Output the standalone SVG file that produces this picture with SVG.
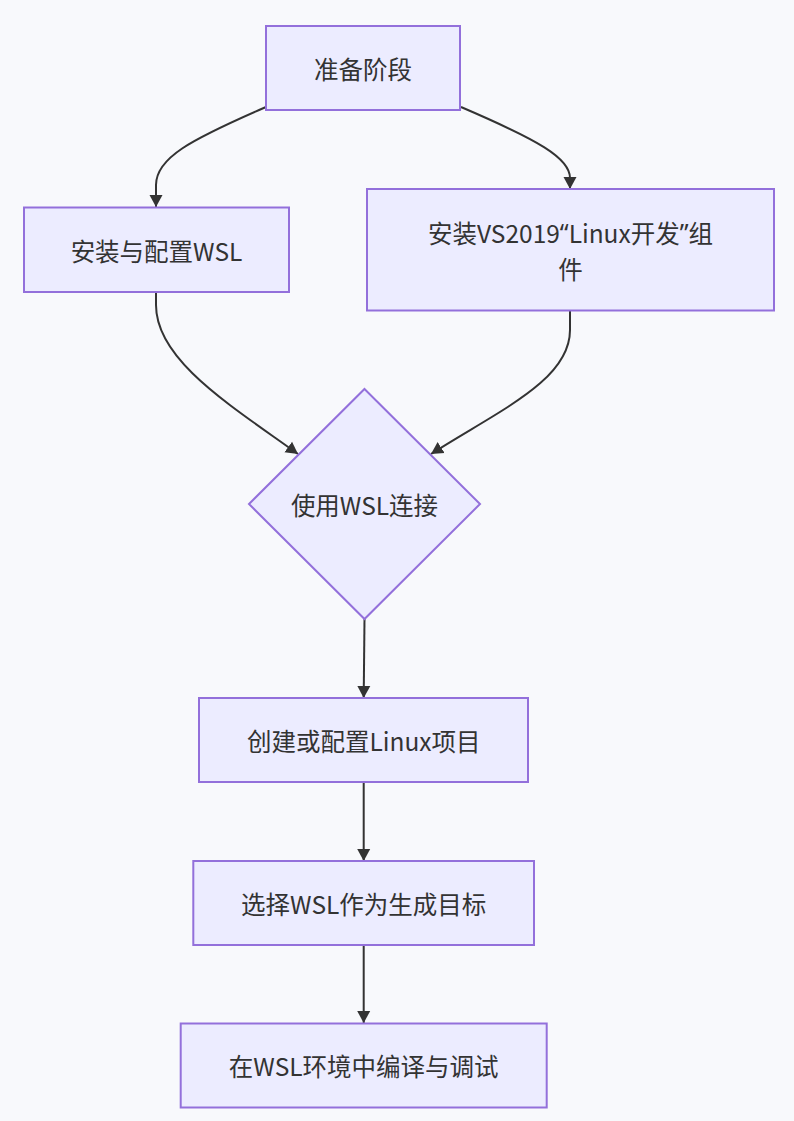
<svg xmlns="http://www.w3.org/2000/svg" width="794" height="1121" viewBox="0 0 794 1121">
<style>
.node{fill:#ECECFF;stroke:#9370DB;stroke-width:2}
.lbl{font-family:"Noto Sans CJK SC","Noto Sans",sans-serif;font-size:24.5px;fill:#333;text-anchor:middle;dominant-baseline:central}
.q{font-family:"Noto Sans",sans-serif}
.edge{fill:none;stroke:#333;stroke-width:2}
</style>
<defs>
<marker id="arr" markerUnits="userSpaceOnUse" markerWidth="13" markerHeight="14" refX="12" refY="6.5" orient="auto" viewBox="0 0 13 13">
<path d="M0,0 L12,6.5 L0,13 z" fill="#333"/>
</marker>
</defs>
<rect width="794" height="1121" fill="#f8f9fc"/>
<g id="edges">
<path class="edge" marker-end="url(#arr)" d="M266,107 C190,140 156,158 156,185 L156,207"/>
<path class="edge" marker-end="url(#arr)" d="M461,107 C538,140 570,158 570,178 L570,189"/>
<path class="edge" marker-end="url(#arr)" d="M156,292 L156,305 C156,360 230,405 298,454"/>
<path class="edge" marker-end="url(#arr)" d="M570,311 L570,330 C570,380 500,410 431,454"/>
<path class="edge" marker-end="url(#arr)" d="M364.5,619 L363.7,698"/>
<path class="edge" marker-end="url(#arr)" d="M363.7,782 L363.7,861"/>
<path class="edge" marker-end="url(#arr)" d="M363.7,945 L363.7,1023"/>
</g>
<g id="n1">
<rect class="node" x="266" y="26" width="194" height="84"/>
<text class="lbl" x="363" y="68">准备阶段</text>
</g>
<g id="n2">
<rect class="node" x="24" y="207.5" width="265" height="84.5"/>
<text class="lbl" x="156.5" y="250">安装与配置WSL</text>
</g>
<g id="n3">
<rect class="node" x="367" y="189" width="407" height="121.5"/>
<text class="lbl" x="570.5" y="232">安装VS2019<tspan class="q">“</tspan>Linux开发<tspan class="q">”</tspan>组</text>
<text class="lbl" x="570.5" y="268.5">件</text>
</g>
<g id="n4">
<polygon class="node" points="364.5,389 480,504 364.5,619 249,504"/>
<text class="lbl" x="364.5" y="504">使用WSL连接</text>
</g>
<g id="n5">
<rect class="node" x="199" y="698" width="329" height="84"/>
<text class="lbl" x="363.7" y="740">创建或配置Linux项目</text>
</g>
<g id="n6">
<rect class="node" x="193.3" y="861" width="340.7" height="84"/>
<text class="lbl" x="363.7" y="903">选择WSL作为生成目标</text>
</g>
<g id="n7">
<rect class="node" x="180.7" y="1023.5" width="366" height="84"/>
<text class="lbl" x="363.7" y="1065.5">在WSL环境中编译与调试</text>
</g>
</svg>
